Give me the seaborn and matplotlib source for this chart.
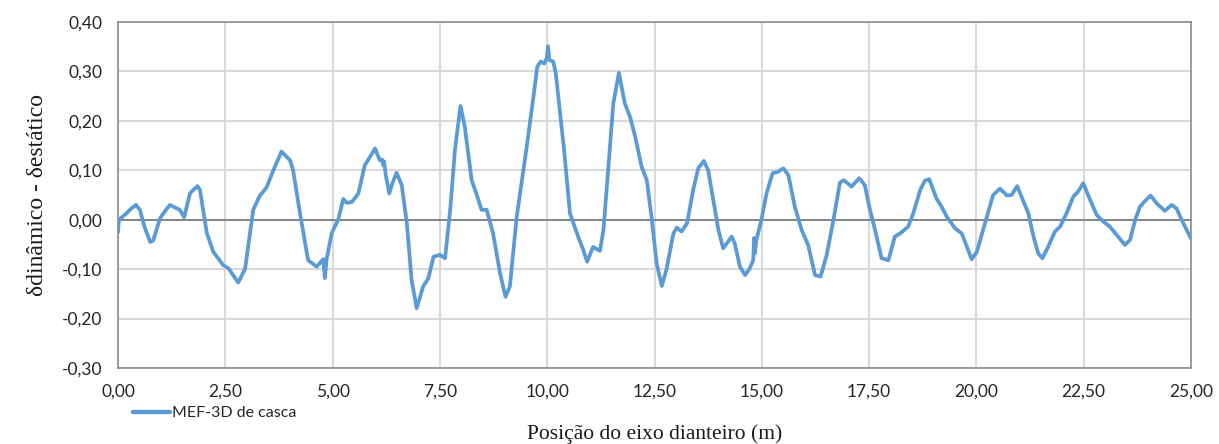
import matplotlib
matplotlib.use("Agg")
import matplotlib.pyplot as plt
import seaborn as sns
import pandas as pd
from matplotlib.ticker import FuncFormatter, MultipleLocator

pos = [0.00, 0.02, 0.16, 0.30, 0.42, 0.51, 0.62, 0.75, 0.82, 0.98, 1.10, 1.21, 1.32, 1.44, 1.54,
       1.68, 1.85, 1.91, 2.07, 2.22, 2.35, 2.45, 2.57, 2.80, 2.96, 3.15, 3.30, 3.46, 3.62, 3.81,
       4.01, 4.08, 4.24, 4.43, 4.63, 4.78, 4.82, 4.86, 4.98, 5.13, 5.25, 5.33, 5.45, 5.60, 5.75,
       5.99, 6.10, 6.15, 6.18, 6.20, 6.24, 6.32, 6.40, 6.49, 6.61, 6.73, 6.84, 6.96, 7.11, 7.23,
       7.35, 7.50, 7.62, 7.74, 7.85, 7.98, 8.08, 8.24, 8.36, 8.47, 8.59, 8.74, 8.90, 9.03, 9.13,
       9.29, 9.52, 9.68, 9.77, 9.85, 9.93, 9.99, 10.02, 10.05, 10.14, 10.20, 10.30, 10.39, 10.53,
       10.72, 10.84, 10.93, 11.07, 11.23, 11.31, 11.42, 11.54, 11.67, 11.81, 11.93, 12.05, 12.20,
       12.32, 12.43, 12.55, 12.67, 12.78, 12.94, 13.02, 13.13, 13.26, 13.40, 13.52, 13.65, 13.75,
       13.87, 13.99, 14.10, 14.30, 14.37, 14.49, 14.61, 14.72, 14.80, 14.82, 14.84, 14.87, 14.99,
       15.11, 15.25, 15.38, 15.50, 15.62, 15.77, 15.93, 16.08, 16.24, 16.37, 16.51, 16.67, 16.82,
       16.91, 17.09, 17.27, 17.40, 17.52, 17.64, 17.79, 17.95, 18.10, 18.22, 18.41, 18.53, 18.69,
       18.80, 18.90, 19.07, 19.19, 19.31, 19.50, 19.66, 19.89, 20.01, 20.20, 20.39, 20.55, 20.71,
       20.82, 20.95, 21.05, 21.21, 21.33, 21.44, 21.54, 21.67, 21.83, 21.95, 22.10, 22.26, 22.37,
       22.49, 22.65, 22.80, 22.96, 23.11, 23.27, 23.46, 23.58, 23.70, 23.81, 23.93, 24.06, 24.20,
       24.39, 24.55, 24.66, 24.82, 25.00]
delta = [-0.025, 0.000, 0.010, 0.022, 0.030, 0.020, -0.015, -0.045, -0.042, 0.003, 0.018, 0.030,
         0.025, 0.020, 0.005, 0.054, 0.068, 0.060, -0.027, -0.065, -0.080, -0.092, -0.098, -0.127,
         -0.100, 0.020, 0.048, 0.065, 0.100, 0.138, 0.120, 0.100, 0.013, -0.082, -0.095, -0.080,
         -0.118, -0.080, -0.027, 0.000, 0.042, 0.034, 0.036, 0.053, 0.110, 0.144, 0.120, 0.122,
         0.110, 0.118, 0.090, 0.053, 0.075, 0.095, 0.070, -0.007, -0.122, -0.179, -0.135, -0.119,
         -0.075, -0.071, -0.078, 0.020, 0.141, 0.230, 0.188, 0.080, 0.050, 0.020, 0.020, -0.028,
         -0.108, -0.156, -0.135, 0.006, 0.146, 0.249, 0.310, 0.320, 0.316, 0.327, 0.351, 0.323,
         0.320, 0.296, 0.215, 0.144, 0.013, -0.034, -0.061, -0.085, -0.055, -0.063, -0.021, 0.100,
         0.235, 0.297, 0.235, 0.208, 0.168, 0.107, 0.080, 0.006, -0.088, -0.134, -0.100, -0.028,
         -0.016, -0.024, -0.007, 0.060, 0.104, 0.119, 0.100, 0.040, -0.021, -0.058, -0.034, -0.048,
         -0.095, -0.112, -0.098, -0.082, -0.037, -0.068, -0.043, 0.000, 0.053, 0.094, 0.097, 0.104,
         0.090, 0.026, -0.021, -0.051, -0.112, -0.115, -0.072, 0.000, 0.075, 0.080, 0.067, 0.084,
         0.070, 0.020, -0.021, -0.078, -0.082, -0.034, -0.028, -0.014, 0.013, 0.060, 0.079, 0.082,
         0.043, 0.026, 0.006, -0.017, -0.028, -0.080, -0.065, -0.007, 0.050, 0.063, 0.049, 0.050,
         0.068, 0.047, 0.013, -0.034, -0.068, -0.078, -0.055, -0.024, -0.014, 0.013, 0.047, 0.057,
         0.074, 0.040, 0.010, -0.004, -0.014, -0.031, -0.051, -0.041, 0.000, 0.026, 0.038, 0.049,
         0.033, 0.018, 0.030, 0.023, -0.007, -0.038]

series_name = "MEF-3D de casca"
x_label = "Posição do eixo dianteiro (m)"
y_label = "δdinâmico - δestático"

df = pd.DataFrame({"x": pos, "y": delta, "serie": series_name})

sns.set_theme(style="white")
plt.rcParams["font.family"] = ["Lato", "DejaVu Sans"]

fig = plt.figure(figsize=(12.19, 4.44), dpi=100)
ax = fig.add_axes([118 / 1219, 1 - 368 / 444, (1191 - 118) / 1219, (368 - 22) / 444])

sns.lineplot(data=df, x="x", y="y", hue="serie", palette=["#5B9BD5"], sort=False,
             estimator=None, linewidth=2.7, ax=ax, legend=True, zorder=3)
for ln in ax.get_lines():
    ln.set_solid_joinstyle("round")
    ln.set_solid_capstyle("round")

ax.set_xlim(0, 25)
ax.set_ylim(-0.30, 0.40)
ax.xaxis.set_major_locator(MultipleLocator(2.5))
ax.yaxis.set_major_locator(MultipleLocator(0.1))
fmt = FuncFormatter(lambda v, p: f"{v:.2f}".replace(".", ",").replace("-0,00", "0,00"))
ax.xaxis.set_major_formatter(fmt)
ax.yaxis.set_major_formatter(fmt)
ax.grid(True, color="#D9D9D9", linewidth=1.5, zorder=0)
ax.axhline(0, color="#7F7F7F", linewidth=1.3, zorder=2)
for s in ax.spines.values():
    s.set_color("#8C8C8C")
    s.set_linewidth(1.2)
ax.tick_params(axis="both", length=0, labelsize=12.5, colors="#262626")
ax.tick_params(axis="x", pad=11)
ax.tick_params(axis="y", pad=11)

ax.set_xlabel(x_label, family=["Liberation Serif"], fontsize=15.5, color="#1a1a1a", labelpad=18)
ax.set_ylabel(y_label, family=["Liberation Serif"], fontsize=17, color="#1a1a1a", labelpad=10)

leg = ax.legend(loc="upper left", bbox_to_anchor=(0.008, -0.092), frameon=False,
                fontsize=11.5, handlelength=2.3, handletextpad=0.15, borderaxespad=0)
leg.get_lines()[0].set_linewidth(3.2)

fig.savefig("out.png", dpi=100)
